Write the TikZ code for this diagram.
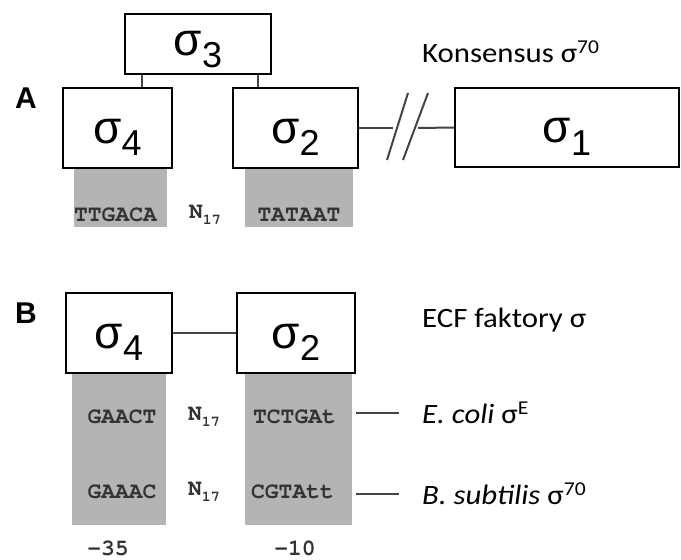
\documentclass[tikz,border=0pt]{standalone}
\usepackage[T1]{fontenc}
\usepackage{fontspec}
\setmainfont{Carlito}[FakeStretch=1.1]
\newfontfamily\arialfont{Liberation Sans}
\newcommand{\seqfont}{\fontencoding{T1}\fontfamily{pcr}\fontseries{b}\selectfont}
\usepackage{tikz}
\usetikzlibrary{positioning}
\definecolor{motifgray}{HTML}{B4B4B4}
\definecolor{linkgray}{HTML}{444444}
\definecolor{seqink}{HTML}{333333}
\newcommand{\sigdom}[1]{{\arialfont\fontsize{46}{46}\selectfont σ\raisebox{-0.28em}{\fontsize{36}{36}\selectfont #1}}}
\newcommand{\nspacer}{N\raisebox{-0.25em}{\fontsize{15}{15}\selectfont 17}}

\begin{document}
\begin{tikzpicture}[x=1pt, y=-1pt,
    sigbox/.style={draw=black, line width=2.4pt, fill=white, inner sep=0pt, text height=30pt, text depth=0pt},
    motif/.style={fill=motifgray, inner sep=0pt},
    seq/.style={font=\seqfont\fontsize{23}{23}\selectfont, text=seqink, inner sep=0pt},
    link/.style={draw=linkgray, line width=2pt},
    caption/.style={anchor=west, inner sep=0pt, font=\fontsize{28}{28}\selectfont},
    panel/.style={font=\arialfont\bfseries\fontsize{30}{30}\selectfont}]
  \useasboundingbox (0,0) rectangle (681,560);

  % panel A: consensus sigma70
  \node[panel] (labA) at (26,98) {A};
  \node[motif, minimum width=93pt, minimum height=59pt] (m4a) at (120.5,197.5) {};
  \node[motif, minimum width=108pt, minimum height=59pt] (m2a) at (299,197.5) {};
  \node[sigbox, text height=22pt, minimum width=146pt, minimum height=60pt] (sig3) at (198,44) {\sigdom{3}};
  \node[sigbox, minimum width=109pt, minimum height=80pt] (sig4a) at (117.5,128) {\sigdom{4}};
  \node[sigbox, minimum width=125pt, minimum height=80pt] (sig2a) at (295.5,128) {\sigdom{2}};
  \node[sigbox, minimum width=224pt, minimum height=79pt] (sig1) at (567,127.5) {\sigdom{1}};
  \draw[link] ([xshift=18pt]sig3.south west) -- ([xshift=18pt]sig3.south west |- sig4a.north);
  \draw[link] ([xshift=-14pt]sig3.south east) -- ([xshift=-14pt]sig3.south east |- sig2a.north);
  \coordinate (brkL) at (393,128);
  \coordinate (brkR) at (418,128);
  \draw[link] (sig2a.east) -- (brkL);
  \draw[link] (brkR) -- (sig1.west);
  \draw[link] (387,160) -- (408,93);
  \draw[link] (403,160) -- (428,93);
  \node[seq] (ttgaca) at (115.5,215) {TTGACA};
  \node[seq] (spA) at (205,215) {\nspacer};
  \node[seq] (tataat) at (299,215) {TATAAT};
  \node[caption] (cons) at (422,52) {Konsensus σ\textsuperscript{70}};

  % panel B: ECF sigma factors
  \node[panel] (labB) at (26,313) {B};
  \node[motif, minimum width=94pt, minimum height=152pt] (m4b) at (119,449) {};
  \node[motif, minimum width=107pt, minimum height=152pt] (m2b) at (298.5,449) {};
  \node[sigbox, minimum width=106pt, minimum height=80pt] (sig4b) at (119,333) {\sigdom{4}};
  \node[sigbox, minimum width=118pt, minimum height=80pt] (sig2b) at (296,333) {\sigdom{2}};
  \draw[link] (sig4b) -- (sig2b);
  \node[seq] (gaact) at (122,417) {GAACT};
  \node[seq] (spB1) at (204,417) {\nspacer};
  \node[seq] (tctgat) at (294.5,417) {TCTGAt};
  \node[seq] (gaaac) at (122,492) {GAAAC};
  \node[seq] (spB2) at (204,492) {\nspacer};
  \node[seq] (cgtatt) at (292.5,492) {CGTAtt};
  \node[seq] (pos35) at (108,548) {-35};
  \node[seq] (pos10) at (295,548) {-10};
  \node[caption] (ecf) at (422,320) {ECF faktory σ};
  \node[caption] (ecoli) at (422,413) {\textit{E. coli} σ\textsuperscript{E}};
  \node[caption] (bsub) at (422,494) {\textit{B. subtilis} σ\textsuperscript{70}};
  \draw[link] ([xshift=4pt]m2b.east |- ecoli) -- ([xshift=-23pt]ecoli.west);
  \draw[link] ([xshift=4pt]m2b.east |- bsub) -- ([xshift=-23pt]bsub.west);
\end{tikzpicture}
\end{document}
